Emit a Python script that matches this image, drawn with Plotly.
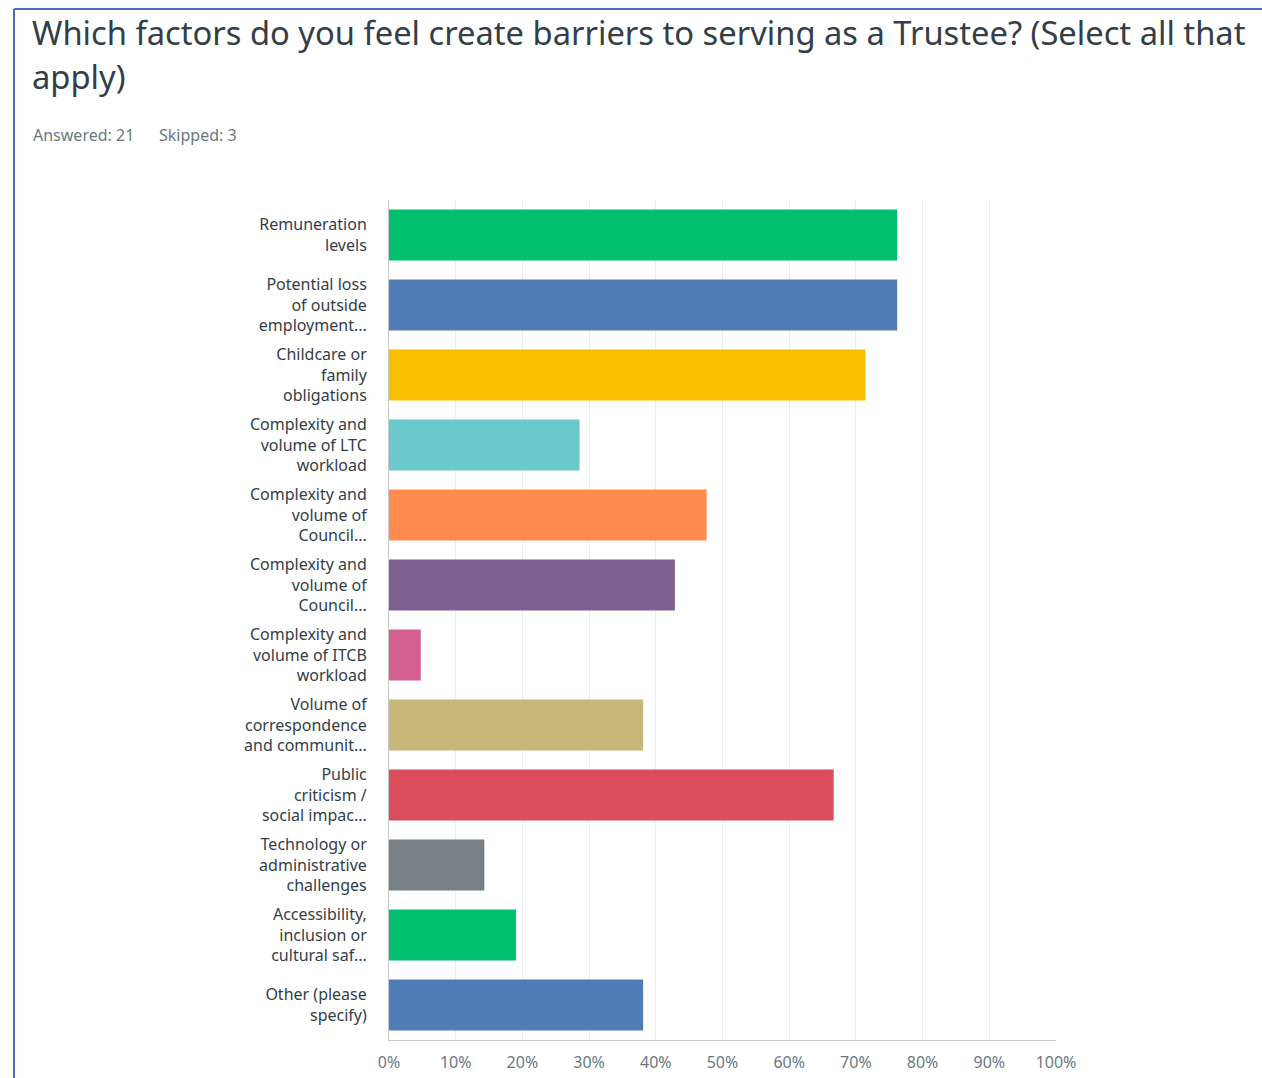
import plotly.graph_objects as go

# Survey responses (share of 21 respondents)
categories = [
    "Remuneration<br>levels",
    "Potential loss<br>of outside<br>employment...",
    "Childcare or<br>family<br>obligations",
    "Complexity and<br>volume of LTC<br>workload",
    "Complexity and<br>volume of<br>Council...",
    "Complexity and<br>volume of<br>Council...",
    "Complexity and<br>volume of ITCB<br>workload",
    "Volume of<br>correspondence<br>and communit...",
    "Public<br>criticism /<br>social impac...",
    "Technology or<br>administrative<br>challenges",
    "Accessibility,<br>inclusion or<br>cultural saf...",
    "Other (please<br>specify)",
]
percentages = [76.19, 76.19, 71.43, 28.57, 47.62, 42.86, 4.76, 38.10, 66.67, 14.29, 19.05, 38.10]
bar_colors = ["#00bf6f", "#507cb6", "#f9be00", "#6bc8cd", "#ff8b4f", "#7f5f90",
              "#d25f90", "#c7b879", "#dc4d5c", "#768086", "#00bf6f", "#507cb6"]
tick_values = list(range(0, 101, 10))
tick_labels = [f"{v}%" for v in tick_values]

title_lines = ["Which factors do you feel create barriers to serving as a Trustee? (Select all that",
               "apply)"]
answered_text = "Answered: 21"
skipped_text = "Skipped: 3"

W, H = 1262, 1078
L, R, T, B = 389, W - 1056, 200, H - 1040
pw, ph = W - L - R, H - T - B

def px_x(x):
    return (x - L) / pw

def px_y(y):
    return (H - B - y) / ph

# unique internal keys keep duplicate labels on separate rows
keys = [f"c{i}" for i in range(len(categories))]

fig = go.Figure(go.Bar(
    x=percentages,
    y=keys,
    orientation="h",
    marker=dict(color=bar_colors, line=dict(width=0)),
    hoverinfo="skip",
))

title_font = dict(size=32.7, color="#333e48", family="Noto Sans")
stats_font = dict(size=16, color="#6b787f", family="Noto Sans")

annotations = [
    dict(text=title_lines[0], x=px_x(30), y=px_y(32)),
    dict(text=title_lines[1], x=px_x(30), y=px_y(76)),
]
annotations = [dict(a, xref="paper", yref="paper", xanchor="left", yanchor="middle",
                    showarrow=False, font=title_font) for a in annotations]
annotations += [
    dict(text=answered_text, x=px_x(31), y=px_y(135), xref="paper", yref="paper",
         xanchor="left", yanchor="middle", showarrow=False, font=stats_font),
    dict(text=skipped_text, x=px_x(157), y=px_y(135), xref="paper", yref="paper",
         xanchor="left", yanchor="middle", showarrow=False, font=stats_font),
]

fig.update_layout(
    width=W, height=H,
    margin=dict(l=L, r=R, t=T, b=B, pad=0, autoexpand=False),
    paper_bgcolor="white", plot_bgcolor="white",
    bargap=0.27,
    showlegend=False,
    font=dict(family="Noto Sans", color="#333e48"),
    xaxis=dict(
        range=[0, 100], tickvals=tick_values, ticktext=tick_labels,
        showgrid=True, gridcolor="#ececec", gridwidth=1,
        zeroline=False, showline=True, linecolor="#c8cbcd", linewidth=1,
        ticks="", tickfont=dict(size=16, color="#6b787f", family="Noto Sans"),
        ticklabelstandoff=8, fixedrange=True,
    ),
    yaxis=dict(
        categoryorder="array", categoryarray=keys[::-1],
        tickvals=keys, ticktext=categories,
        showgrid=False, zeroline=False, showline=True, linecolor="#c8cbcd", linewidth=1,
        ticks="", tickfont=dict(size=16, color="#333e48", family="Noto Sans"),
        ticklabelstandoff=18, fixedrange=True,
    ),
    annotations=annotations,
    shapes=[
        dict(type="line", xref="paper", yref="paper", x0=px_x(14), x1=px_x(W + 5),
             y0=px_y(9), y1=px_y(9), line=dict(color="#4a6cb3", width=2)),
        dict(type="line", xref="paper", yref="paper", x0=px_x(14), x1=px_x(14),
             y0=px_y(9), y1=px_y(H + 5), line=dict(color="#4a6cb3", width=2)),
    ],
)

fig.write_html("out.html")
